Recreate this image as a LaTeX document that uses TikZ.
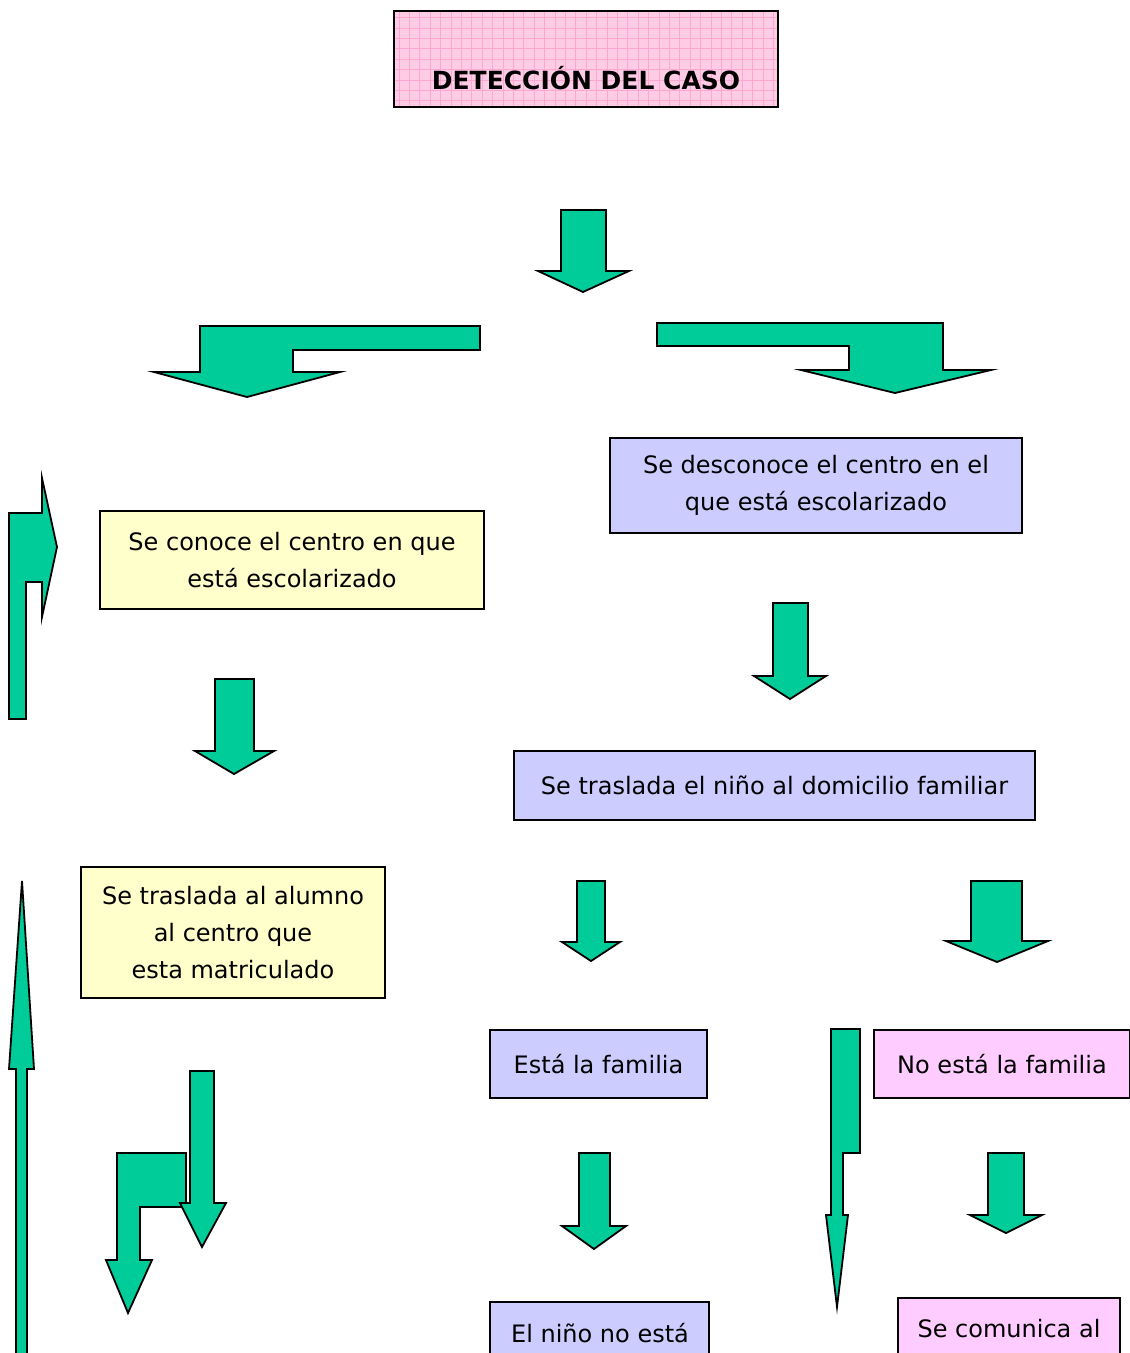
\documentclass[tikz,border=0pt]{standalone}
\usepackage{fontspec}
\setmainfont{DejaVu Sans}
\definecolor{arrgreen}{HTML}{00CC99}
\definecolor{lavbox}{HTML}{CCCCFF}
\definecolor{yelbox}{HTML}{FFFFCC}
\definecolor{pinkbox}{HTML}{FFCCFF}
\definecolor{titlepink}{HTML}{FFCCE6}
\definecolor{gridpink}{HTML}{FFA6D2}
\newcommand\blockdown[8]{\draw[blk] (#1,#3) -- (#2,#3) -- (#2,#4) -- (#6,#4) -- (#7,#8) -- (#5,#4) -- (#1,#4) -- cycle;}
\begin{document}
\begin{tikzpicture}[x=1pt,y=-1pt,
  box/.style={draw=black, line width=1.8pt, align=center, inner sep=0pt,
              font=\fontsize{24}{37}\selectfont},
  blk/.style={fill=arrgreen, draw=black, line width=1.8pt, line join=miter}]
\useasboundingbox (0,0) rectangle (1130,1353);
\clip (0,0) rectangle (1130,1353);

% title
\node[draw=black, line width=1.8pt, fill=titlepink, minimum width=384pt, minimum height=96pt,
      inner sep=0pt,
      path picture={\draw[gridpink, line width=0.6pt]
        (path picture bounding box.south west) grid[step=10.4pt]
        (path picture bounding box.north east);}] (title) at (586,59) {};
\node[font=\bfseries\fontsize{25}{30}\selectfont, inner sep=0pt] (titletext) at (586,78) {DETECCIÓN DEL CASO};

% boxes
\node[box, fill=yelbox, minimum width=384pt, minimum height=98pt] (conoce) at (292,560)
  {Se conoce el centro en que\\está escolarizado};
\node[box, fill=lavbox, minimum width=412pt, minimum height=95pt] (desconoce) at (816,485.5)
  {Se desconoce el centro en el\\que está escolarizado};
\node[box, fill=lavbox, minimum width=521pt, minimum height=69pt] (domicilio) at (774.5,785.5)
  {Se traslada el niño al domicilio familiar};
\node[box, fill=yelbox, minimum width=304pt, minimum height=131pt] (alumno) at (233,932.5)
  {Se traslada al alumno\\al centro que\\esta matriculado};
\node[box, fill=lavbox, minimum width=217pt, minimum height=68pt] (esta) at (598.5,1064)
  {Está la familia};
\node[box, fill=pinkbox, minimum width=256pt, minimum height=68pt] (noesta) at (1002,1064)
  {No está la familia};
\node[box, fill=lavbox, minimum width=219pt, minimum height=100pt] (nino) at (599.5,1352)
  {};
\node[font=\fontsize{24}{37}\selectfont, inner sep=0pt] (ninotext) at (600,1333) {El niño no está};
\node[box, fill=pinkbox, minimum width=222pt, minimum height=100pt] (comunica) at (1009,1348)
  {};
\node[font=\fontsize{24}{37}\selectfont, inner sep=0pt] (comunicatext) at (1009,1329) {Se comunica al};

% straight down block arrows
\blockdown{561}{606}{210}{271}{538}{629}{583}{292}
\blockdown{215}{254}{679}{751}{195}{274}{234}{774}
\blockdown{773}{808}{603}{676}{754}{826}{790}{699}
\blockdown{577}{605}{881}{942}{562}{620}{591}{961}
\blockdown{971}{1022}{881}{941}{946}{1048}{997}{962}
\blockdown{579}{610}{1153}{1226}{562}{626}{594}{1249}
\blockdown{988}{1024}{1153}{1215}{970}{1042}{1006}{1233}

% bent arrow left
\draw[blk] (200,326) -- (480,326) -- (480,350) -- (293,350) -- (293,372) -- (340,372)
  -- (247,397) -- (154,372) -- (200,372) -- cycle;
% bent arrow right
\draw[blk] (657,323) -- (943,323) -- (943,370) -- (991,370) -- (895,393) -- (801,370)
  -- (849,370) -- (849,346) -- (657,346) -- cycle;
% left bent up-right arrow
\draw[blk] (9,719) -- (9,513) -- (42,513) -- (42,478) -- (57,547) -- (42,617) -- (42,582)
  -- (26,582) -- (26,719) -- cycle;
% long up arrow
\draw[blk] (16,1360) -- (16,1069) -- (9,1069) -- (22,881) -- (34,1069) -- (27,1069) -- (27,1360) -- cycle;
% bottom-left bent arrow
\draw[blk] (117,1153) -- (186,1153) -- (186,1207) -- (140,1207) -- (140,1260) -- (152,1260)
  -- (128,1313) -- (106,1260) -- (117,1260) -- cycle;
\blockdown{190}{214}{1071}{1203}{180}{226}{202}{1247}
% bent narrow down arrow
\draw[blk] (831,1029) -- (860,1029) -- (860,1153) -- (843,1153) -- (843,1215) -- (848,1215)
  -- (837,1307) -- (826,1215) -- (831,1215) -- cycle;
\end{tikzpicture}
\end{document}
